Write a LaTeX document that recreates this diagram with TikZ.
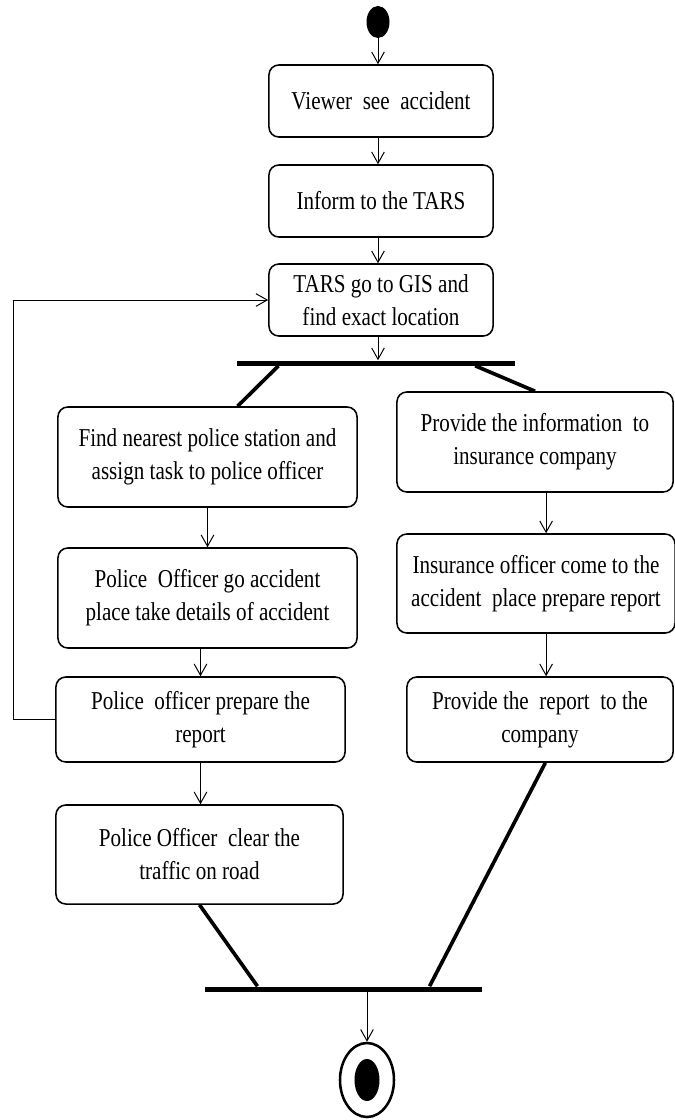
\documentclass[tikz,border=0pt]{standalone}
\usepackage{fontspec}
\setmainfont{Liberation Serif}[FakeStretch=0.82]
\usetikzlibrary{arrows.meta, shapes.geometric, calc}

\begin{document}
\begin{tikzpicture}[
  x=0.025cm, y=-0.025cm,
  act/.style={draw, rounded corners=7pt, line width=1.1pt, align=center,
              font=\fontsize{18.3}{23.5}\selectfont, inner sep=0pt},
  bar/.style={fill=black, inner sep=0pt, minimum height=0.125cm},
  arr/.style={-{Straight Barb[length=8pt, width=9pt]}, line width=0.7pt},
  thickline/.style={line width=2.6pt}
]
  \useasboundingbox (0,0) rectangle (675,1120);

  \node[ellipse, fill=black, minimum width=0.575cm, minimum height=0.8cm, inner sep=0pt] (start) at (378,22) {};
  \node[act, minimum width=5.6cm, minimum height=1.8cm] (view) at (381,101) {Viewer~ see~ accident};
  \node[act, minimum width=5.6cm, minimum height=1.8cm] (inform) at (381,201) {Inform to the TARS};
  \node[act, minimum width=5.6cm, minimum height=1.8cm] (gis) at (381,300) {TARS go to GIS and\\find exact location};
  \node[bar, minimum width=6.95cm] (fork) at (376,363) {};

  \node[act, minimum width=7.475cm, minimum height=2.5cm] (find) at (207.5,457) {Find nearest police station and\\assign task to police officer};
  \node[act, minimum width=7.475cm, minimum height=2.5cm] (officer) at (207.5,598) {Police~ Officer go accident\\place take details of accident};
  \node[act, minimum width=7.225cm, minimum height=2.125cm] (report) at (200.5,719.5) {Police~ officer prepare the\\report};
  \node[act, minimum width=7.175cm, minimum height=2.475cm] (clear) at (199.5,854.5) {Police Officer~ clear the\\traffic on road};

  \node[act, minimum width=6.9cm, minimum height=2.5cm] (insure) at (535,442) {Provide the information~ to\\insurance company};
  \node[act, minimum width=6.95cm, minimum height=2.475cm] (visit) at (536,583.5) {Insurance officer come to the\\accident~ place prepare report};
  \node[act, minimum width=6.65cm, minimum height=2.125cm] (deliver) at (540,719.5) {Provide the~ report~ to the\\company};

  \node[bar, minimum width=6.925cm] (join) at (343.5,989) {};
  \node[ellipse, draw, line width=1.8pt, minimum width=1.35cm, minimum height=1.85cm, inner sep=0pt] (end) at (367,1080) {};
  \node[ellipse, fill=black, minimum width=0.625cm, minimum height=1.05cm, inner sep=0pt] (endin) at (end) {};

  \coordinate (rx) at ($(insure.south west)!0.54!(insure.south east)$);

  \draw[arr] (start) -- (start |- view.north);
  \draw[arr] (view.south -| start) -- (inform.north -| start);
  \draw[arr] (inform.south -| start) -- (gis.north -| start);
  \draw[arr] (gis.south -| start) -- (fork.north -| start);
  \draw[thickline] ($(fork.south west)!0.15!(fork.south east)$) -- ($(find.north west)!0.6!(find.north east)$);
  \draw[thickline] ($(fork.south west)!0.856!(fork.south east)$) -- (insure.north);

  \draw[arr] (find.south) -- (officer.north);
  \draw[arr] (officer.south -| report.north) -- (report.north);
  \draw[arr] (report.south) -- (report.south |- clear.north);
  \draw[arr] (report.west) -- ++(-42,0) |- (gis.west);

  \draw[arr] (rx) -- (rx |- visit.north);
  \draw[arr] (visit.south -| rx) -- (rx |- deliver.north);

  \draw[thickline] (clear.south) -- ($(join.north west)!0.19!(join.north east)$);
  \draw[thickline] ($(deliver.south west)!0.52!(deliver.south east)$) -- ($(join.north west)!0.81!(join.north east)$);
  \draw[arr] (join.south -| end) -- (end.north);
\end{tikzpicture}
\end{document}
